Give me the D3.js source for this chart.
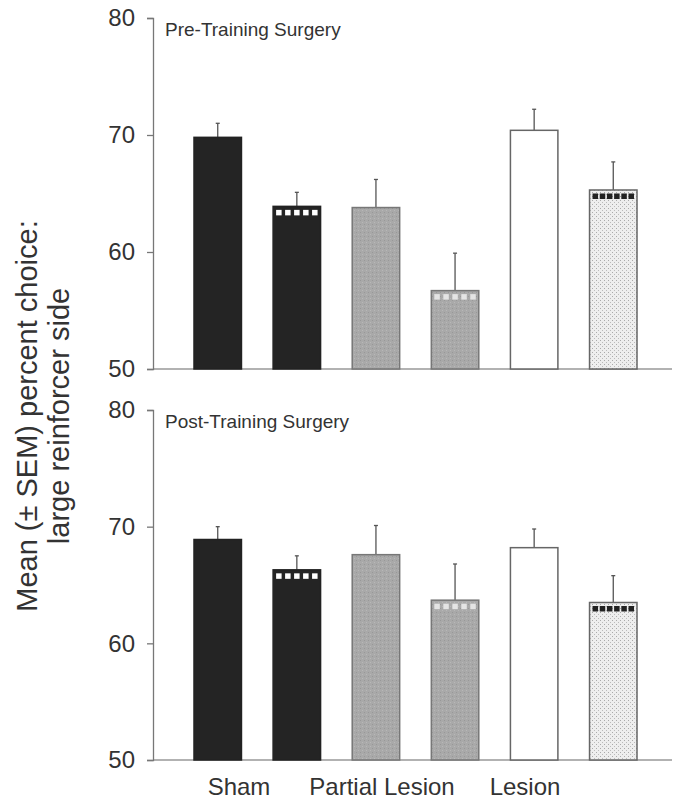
<!DOCTYPE html>
<html>
<head>
<meta charset="utf-8">
<script src="https://cdn.jsdelivr.net/npm/d3@7"></script>
<style>
  body { margin: 0; background: #fff; }
  text { font-family: Arial, "Liberation Sans", sans-serif; fill: #333; }
</style>
</head>
<body>
<svg id="chart" width="674" height="803"></svg>
<script>
// data
const bars = ["sham1", "sham2", "part1", "part2", "les1", "les2"];
const groups = ["Sham", "Partial Lesion", "Lesion"];
const preMean = [69.8, 63.9, 63.8, 56.7, 70.4, 65.3];
const preSem  = [1.2, 1.2, 2.4, 3.2, 1.8, 2.4];
const postMean = [68.9, 66.3, 67.6, 63.7, 68.2, 63.5];
const postSem  = [1.1, 1.2, 2.5, 3.1, 1.6, 2.3];
const yTicks = [50, 60, 70, 80];

const svg = d3.select("#chart");
const defs = svg.append("defs");

// gray grainy fill
const pg = defs.append("pattern").attr("id", "grain")
  .attr("width", 4).attr("height", 4).attr("patternUnits", "userSpaceOnUse");
pg.append("rect").attr("width", 4).attr("height", 4).attr("fill", "#a9a9a9");
pg.append("rect").attr("x", 0).attr("y", 0).attr("width", 1).attr("height", 1).attr("fill", "#989898");
pg.append("rect").attr("x", 2).attr("y", 2).attr("width", 1).attr("height", 1).attr("fill", "#b8b8b8");

// light stipple fill
const ps = defs.append("pattern").attr("id", "stipple")
  .attr("width", 4).attr("height", 4).attr("patternUnits", "userSpaceOnUse");
ps.append("rect").attr("width", 4).attr("height", 4).attr("fill", "#eeeeee");
ps.append("rect").attr("x", 0).attr("y", 0).attr("width", 1).attr("height", 1).attr("fill", "#aaaaaa");
ps.append("rect").attr("x", 2).attr("y", 2).attr("width", 1).attr("height", 1).attr("fill", "#bbbbbb");

const fills = ["#242424", "#242424", "url(#grain)", "url(#grain)", "#ffffff", "url(#stipple)"];
const strokes = ["#222", "#222", "#777", "#777", "#666", "#666"];
// band of squares on top of the second bar of each pair
const bandSq = [null, "#ffffff", null, "#e4e4e4", null, "#222222"];
const bandN  = [0, 5, 0, 5, 0, 6];

const x = d3.scaleBand().domain(bars).range([194, 637]).paddingInner(0.4);
const xLab = d3.scalePoint().domain(groups).range([239, 525]);

function panel(top, bottom, means, sems, title) {
  const y = d3.scaleLinear().domain([50, 80]).range([bottom, top]);
  const g = svg.append("g");

  // baseline
  g.append("line").attr("x1", 153).attr("x2", 672)
    .attr("y1", y(50)).attr("y2", y(50))
    .attr("stroke", "#999").attr("stroke-width", 1.5);

  const ax = g.append("g").attr("transform", "translate(153,0)")
    .call(d3.axisLeft(y).tickValues(yTicks).tickSize(6).tickPadding(12));
  ax.select(".domain").attr("stroke", "#777").attr("stroke-width", 1.3);
  ax.selectAll(".tick line").attr("stroke", "#777").attr("stroke-width", 1.3);
  ax.selectAll("text").style("font-size", "24px").attr("fill", "#333");

  g.append("text").attr("x", 165).attr("y", top + 18)
    .style("font-size", "19px").text(title);

  bars.forEach((b, i) => {
    const bx = x(b), bw = x.bandwidth();
    // error bar
    g.append("line").attr("x1", bx + bw / 2).attr("x2", bx + bw / 2)
      .attr("y1", y(means[i])).attr("y2", y(means[i] + sems[i]))
      .attr("stroke", "#555").attr("stroke-width", 1.3);
    g.append("line").attr("x1", bx + bw / 2 - 2).attr("x2", bx + bw / 2 + 2)
      .attr("y1", y(means[i] + sems[i])).attr("y2", y(means[i] + sems[i]))
      .attr("stroke", "#555").attr("stroke-width", 1.3);

    g.append("rect").attr("x", bx).attr("y", y(means[i]))
      .attr("width", bw).attr("height", y(50) - y(means[i]))
      .attr("fill", fills[i]).attr("stroke", strokes[i]).attr("stroke-width", 1.5);

    if (bandSq[i]) {
      const n = bandN[i], sq = 5.5;
      const gap = (bw - 6 - n * sq) / (n - 1);
      for (let k = 0; k < n; k++) {
        g.append("rect").attr("x", bx + 3 + k * (sq + gap)).attr("y", y(means[i]) + 3.5)
          .attr("width", sq).attr("height", sq).attr("fill", bandSq[i]);
      }
    }
  });
  return y;
}

panel(18, 369, preMean, preSem, "Pre-Training Surgery");
panel(410, 760, postMean, postSem, "Post-Training Surgery");

svg.selectAll(".grp").data(groups).join("text").attr("class", "grp")
  .attr("x", d => xLab(d)).attr("y", 795).attr("text-anchor", "middle")
  .style("font-size", "24px").text(d => d);

const yl = svg.append("text").attr("transform", "translate(0,416) rotate(-90)")
  .attr("text-anchor", "middle").style("font-size", "29px");
yl.append("tspan").attr("x", 0).attr("y", 37).text("Mean (± SEM) percent choice:");
yl.append("tspan").attr("x", 0).attr("y", 69).text("large reinforcer side");
</script>
</body>
</html>
